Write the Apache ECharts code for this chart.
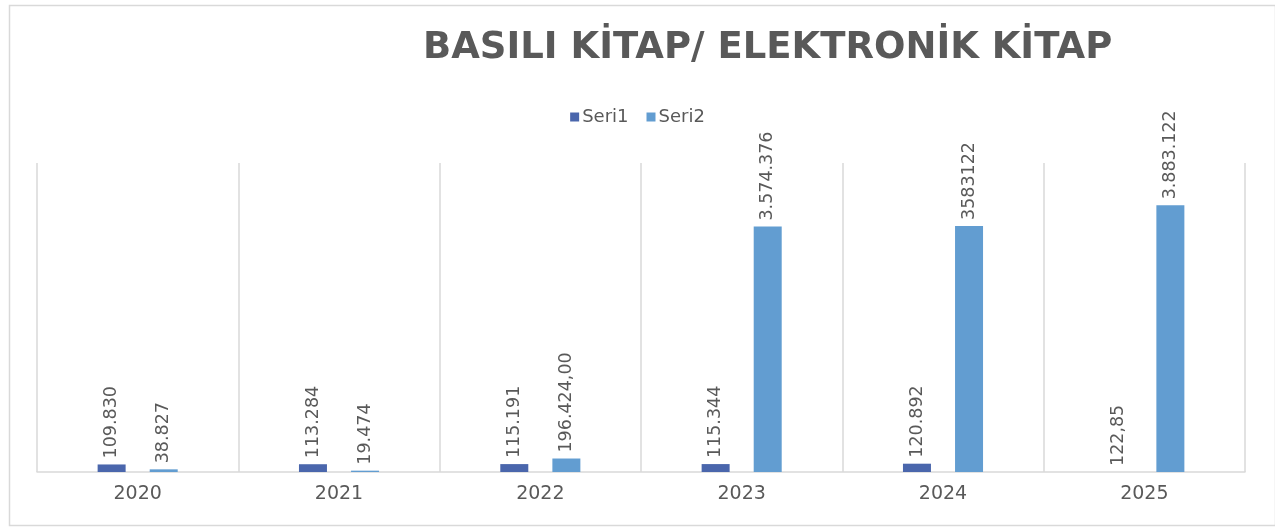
<!DOCTYPE html>
<html>
<head>
<meta charset="utf-8">
<script src="https://cdn.jsdelivr.net/npm/echarts@6/dist/echarts.min.js"></script>
<style>html,body{margin:0;padding:0;background:#fff;}#c{width:1275px;height:527px;}</style>
</head>
<body>
<div id="c"></div>
<script>
const categories = ['2020', '2021', '2022', '2023', '2024', '2025'];
const seri1 = [109830, 113284, 115191, 115344, 120892, 122.85];
const seri2 = [38827, 19474, 196424, 3574376, 3583122, 3883122];
const seri1Labels = ['109.830', '113.284', '115.191', '115.344', '120.892', '122,85'];
const seri2Labels = ['38.827', '19.474', '196.424,00', '3.574.376', '3583122', '3.883.122'];
const titleText = 'BASILI KİTAP/ ELEKTRONİK KİTAP';

const chart = echarts.init(document.getElementById('c'), null, {renderer: 'canvas'});
const FONT = 'DejaVu Sans';
const labelCfg = (arr) => ({
  show: true, position: 'top', rotate: 90, distance: 6, align: 'left', verticalAlign: 'middle',
  fontFamily: FONT, fontSize: 17.5, color: '#595959',
  formatter: p => arr[p.dataIndex]
});
chart.setOption({
  animation: false,
  backgroundColor: '#fff',
  graphic: [{
    type: 'rect', left: 7, top: 3, shape: {width: 1266, height: 520},
    style: {fill: 'none', stroke: '#d9d9d9', lineWidth: 1.5}, silent: true
  }],
  title: {
    text: titleText, left: 418, top: 25,
    textStyle: {fontFamily: FONT, fontSize: 37, fontWeight: 'bold', color: '#595959'}
  },
  legend: {
    left: 'center', top: 103, itemWidth: 9, itemHeight: 9, itemGap: 18, icon: 'rect',
    textStyle: {fontFamily: FONT, fontSize: 18, color: '#595959', padding: [0, 0, 0, -2]},
    data: ['Seri1', 'Seri2']
  },
  grid: {left: 37, right: 30, top: 163, bottom: 55},
  xAxis: {
    type: 'category', data: categories,
    axisLine: {lineStyle: {color: '#d9d9d9', width: 1.5}},
    axisTick: {show: false},
    splitLine: {show: true, lineStyle: {color: '#d9d9d9', width: 1.5}},
    axisLabel: {fontFamily: FONT, fontSize: 19, color: '#595959', margin: 13}
  },
  yAxis: {type: 'value', min: 0, max: 4500000, show: false, splitLine: {show: false}},
  series: [
    {name: 'Seri1', type: 'bar', data: seri1, barWidth: 28, barGap: '86%',
     itemStyle: {color: '#4a66ac'}, label: labelCfg(seri1Labels)},
    {name: 'Seri2', type: 'bar', data: seri2, barWidth: 28,
     itemStyle: {color: '#629dd1'}, label: labelCfg(seri2Labels)}
  ]
});
</script>
</body>
</html>
